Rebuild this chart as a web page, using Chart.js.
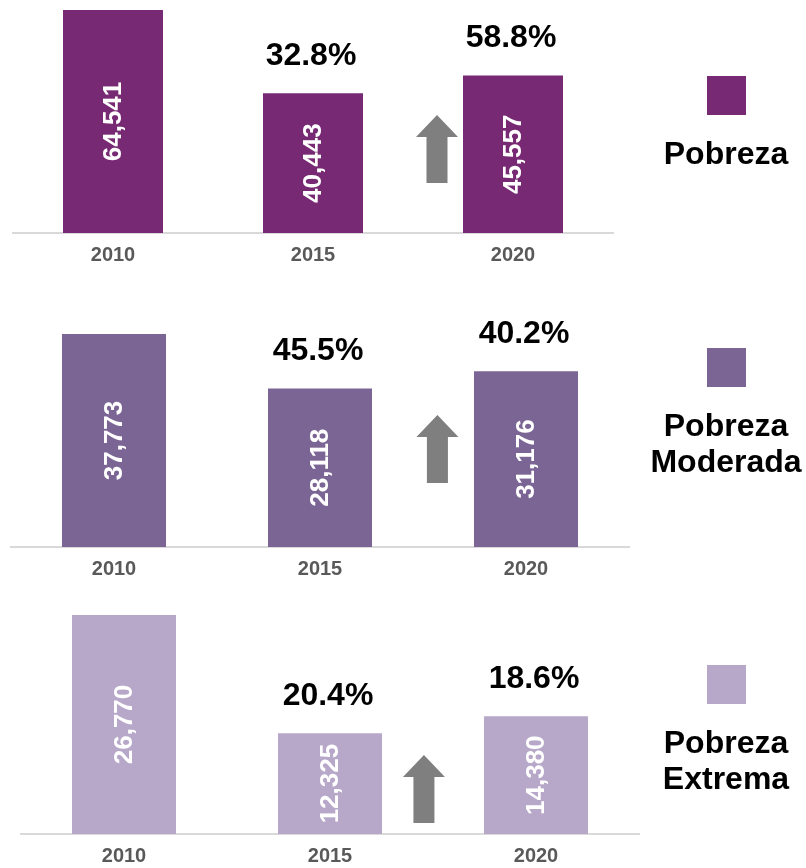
<!DOCTYPE html>
<html lang="es">
<head>
  <meta charset="UTF-8" />
  <title>Pobreza 2010 - 2020</title>
  <script src="https://cdn.jsdelivr.net/npm/chart.js"></script>
  <style>
    body {
      margin: 0;
      background: #fff;
      font-family: 'Liberation Sans', Arial, sans-serif;
      overflow: hidden;
    }
    .page {
      position: relative;
      width: 806px;
      height: 868px;
      overflow: hidden;
    }
    .panel {
      position: absolute;
      left: 0;
      width: 806px;
    }
    .legend {
      position: absolute;
      left: 636px;
      width: 180px;
      text-align: center;
      font-weight: bold;
      font-size: 32px;
      line-height: 36px;
      color: #000;
    }
    .legend .box {
      width: 39px;
      height: 39px;
      margin: 0 auto 20px;
    }
  </style>
</head>
<body>

<div class="page">
  <div class="panel" style="top:0; height:285px;"><canvas id="chartPobreza"></canvas></div>
  <div class="panel" style="top:285px; height:310px;"><canvas id="chartModerada"></canvas></div>
  <div class="panel" style="top:595px; height:285px;"><canvas id="chartExtrema"></canvas></div>

  <div class="legend" style="top:76px;">
    <div class="box" style="background:#772a73;"></div>Pobreza
  </div>
  <div class="legend" style="top:348px;">
    <div class="box" style="background:#7b6594;"></div>Pobreza<br>Moderada
  </div>
  <div class="legend" style="top:665px;">
    <div class="box" style="background:#b7a8ca;"></div>Pobreza<br>Extrema
  </div>
</div>

<script>
  // data
  const years = ['2010', '2015', '2020'];
  const pobreza = [64541, 40443, 45557];
  const moderada = [37773, 28118, 31176];
  const extrema = [26770, 12325, 14380];
  const pctPobreza = ['', '32.8%', '58.8%'];
  const pctModerada = ['', '45.5%', '40.2%'];
  const pctExtrema = ['', '20.4%', '18.6%'];

  const FONT = "'Liberation Sans', Arial, sans-serif";

  // values inside the bars, % above them, and the grey arrow
  const barText = {
    id: 'barText',
    afterDatasetsDraw(chart, args, opts) {
      const ctx = chart.ctx;
      const meta = chart.getDatasetMeta(0);
      const data = chart.data.datasets[0].data;
      ctx.save();
      ctx.textAlign = 'center';
      ctx.textBaseline = 'middle';
      meta.data.forEach((bar, i) => {
        ctx.save();
        ctx.translate(bar.x, (bar.y + bar.base) / 2);
        ctx.rotate(-Math.PI / 2);
        ctx.fillStyle = '#fff';
        ctx.font = 'bold 26px ' + FONT;
        ctx.fillText(data[i].toLocaleString('en-US'), 0, 1);
        ctx.restore();

        if (opts.pct[i]) {
          ctx.fillStyle = '#000';
          ctx.font = 'bold 32px ' + FONT;
          ctx.fillText(opts.pct[i], bar.x - 2, bar.y - 37);
        }
      });

      // up arrow between 2015 and 2020
      const xs = chart.scales.x, ys = chart.scales.y;
      const cx = xs.getPixelForValue(opts.arrowAt);
      const bottom = ys.getPixelForValue(opts.arrowBase * ys.max);
      const h = 68, w = 42, shaft = 21, head = 22;
      ctx.fillStyle = '#7f7f7f';
      ctx.beginPath();
      ctx.moveTo(cx, bottom - h);
      ctx.lineTo(cx + w / 2, bottom - h + head);
      ctx.lineTo(cx + shaft / 2, bottom - h + head);
      ctx.lineTo(cx + shaft / 2, bottom);
      ctx.lineTo(cx - shaft / 2, bottom);
      ctx.lineTo(cx - shaft / 2, bottom - h + head);
      ctx.lineTo(cx - w / 2, bottom - h + head);
      ctx.closePath();
      ctx.fill();
      ctx.restore();
    }
  };

  function makeChart(id, values, color, pct, pad, barPct, arrowAt, arrowBase) {
    return new Chart(document.getElementById(id), {
      type: 'bar',
      data: {
        labels: years,
        datasets: [{
          data: values,
          backgroundColor: color,
          categoryPercentage: 1,
          barPercentage: barPct
        }]
      },
      options: {
        responsive: true,
        maintainAspectRatio: false,
        animation: false,
        layout: { padding: pad },
        plugins: {
          legend: { display: false },
          tooltip: { enabled: false },
          barText: { pct: pct, arrowAt: arrowAt, arrowBase: arrowBase }
        },
        scales: {
          x: {
            grid: { display: false, drawTicks: false },
            border: { display: true, color: '#d9d9d9', width: 2 },
            ticks: {
              color: '#595959',
              padding: 10,
              font: { family: FONT, size: 20, weight: 'bold' }
            }
          },
          y: {
            display: false,
            min: 0,
            max: Math.max(...values)
          }
        }
      },
      plugins: [barText]
    });
  }

  makeChart('chartPobreza', pobreza, '#772a73', pctPobreza,
    { top: 10, bottom: 8, left: 13, right: 193 }, 0.5, 1.62, 0.224);
  makeChart('chartModerada', moderada, '#7b6594', pctModerada,
    { top: 49, bottom: 4, left: 11, right: 177 }, 0.505, 1.57, 0.30);
  makeChart('chartExtrema', extrema, '#b7a8ca', pctExtrema,
    { top: 20, bottom: 2, left: 21, right: 167 }, 0.505, 1.456, 0.05);
</script>

</body>
</html>
